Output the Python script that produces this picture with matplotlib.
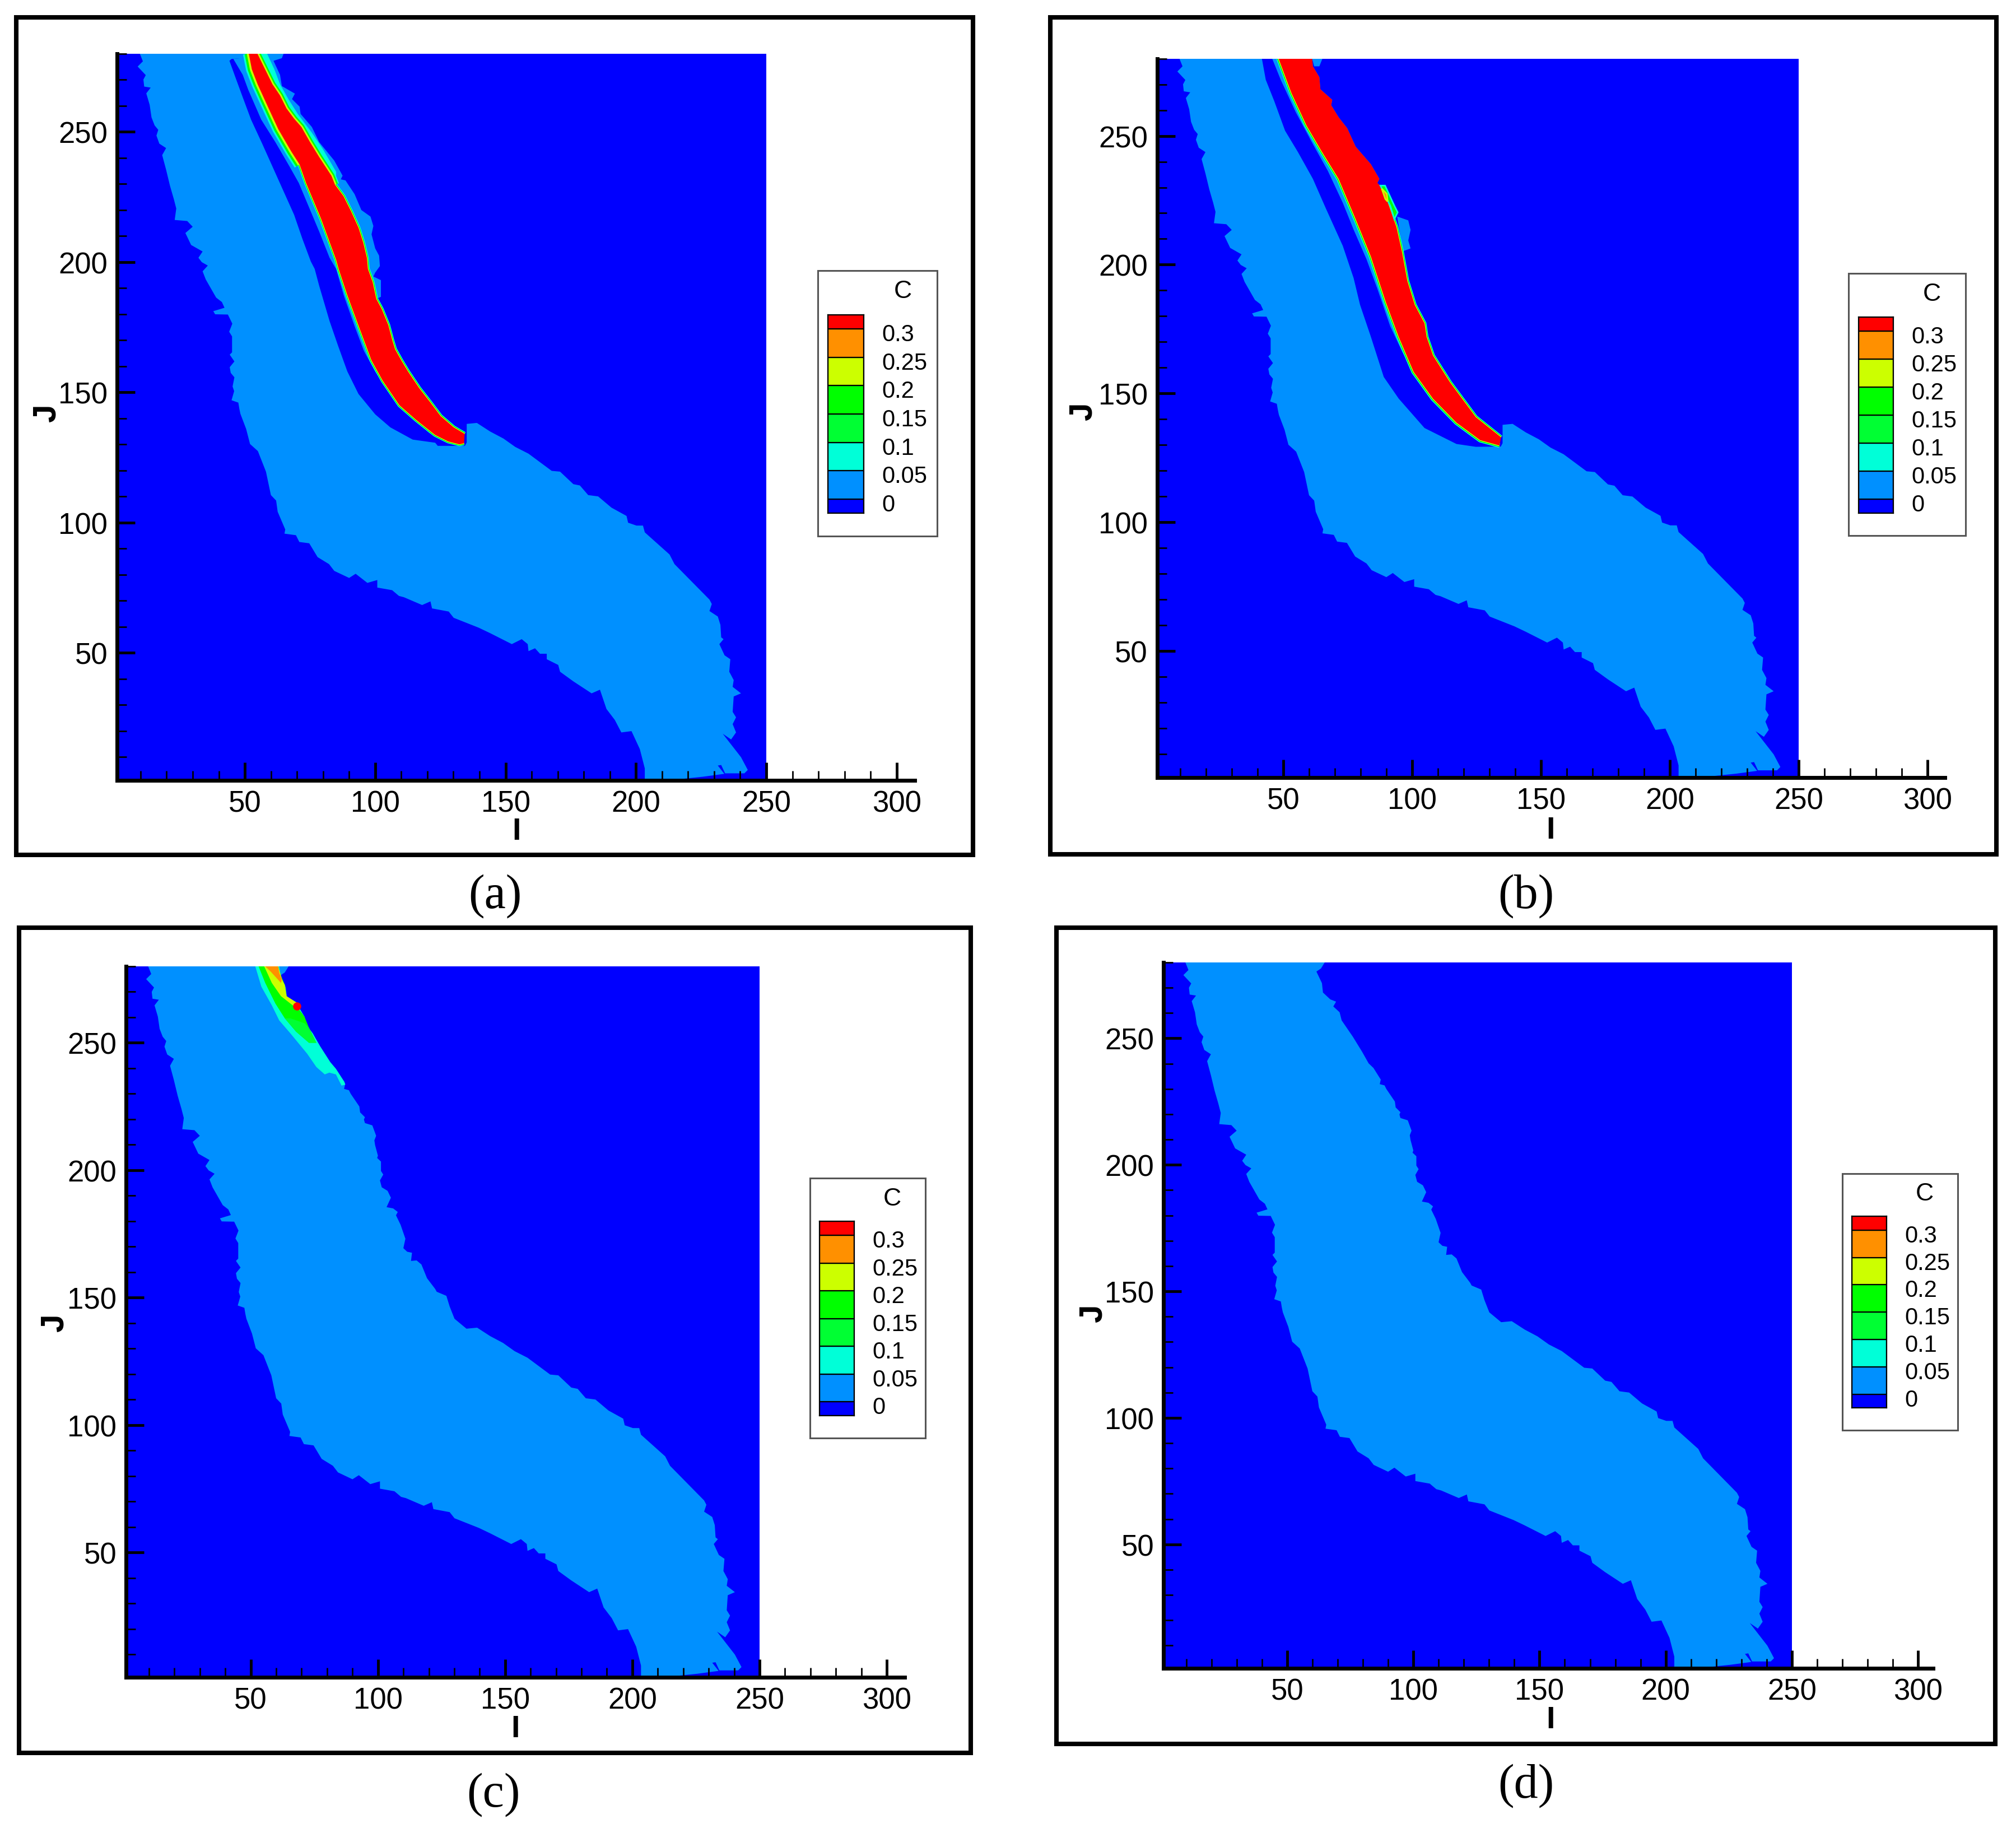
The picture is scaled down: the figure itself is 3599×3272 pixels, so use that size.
import matplotlib
matplotlib.use("Agg")
import matplotlib.pyplot as plt
from matplotlib.patches import Rectangle
from matplotlib.transforms import ScaledTranslation
import numpy as np

W, H = 3599, 3273
plt.rcParams['font.family'] = ['Liberation Sans', 'DejaVu Sans']

# ---------- colour levels ----------
level_labels = ['0', '0.05', '0.1', '0.15', '0.2', '0.25', '0.3']
level_values = [0, 0.05, 0.1, 0.15, 0.2, 0.25, 0.3]
band_edges = [-0.025, 0, 0.05, 0.1, 0.15, 0.2, 0.25, 0.3, 0.325]
band_colors = ['#0000ff', '#0090ff', '#00ffd8', '#00ff33', '#00ff00', '#ccff00', '#ff9000', '#ff0000']
C0, C1, C2, C3, C4, C5, C6, C7 = band_colors

I_domain = [1, 250, 250, 1]
J_domain = [1, 1, 280, 280]
I_ticks = [50, 100, 150, 200, 250, 300]
J_ticks = [50, 100, 150, 200, 250]

# ---------- main 0.05 plume outline (I, J) ----------
plume_left_I = [9.7, 10.9, 8.9, 12, 11.1, 11.4, 13.9, 12.2, 13.5, 14.2, 15.4, 16.8, 16.1, 17.2, 19.8, 18.3, 19.8,
                21.3, 22.8, 23.7, 23.1, 27.9, 30, 27.2, 29.4, 33.8, 32.2, 33.5, 35.8, 33.8, 35, 39, 41.2, 42.2,
                37.9, 38.6, 43.5, 45.2, 44, 45.1, 45.1, 44.2, 46, 44.2, 44.6, 46, 45.3, 45.9, 44.9, 47.5, 47.9,
                48.3, 50.5, 52, 55, 58.1, 60, 62, 62.6, 65.5, 65.2]
plume_left_J = [280, 277, 275, 271.7, 270, 267.3, 266.9, 264.7, 260.3, 255.5, 252.4, 250.7, 248.5, 245.4, 243.7,
                241, 235.4, 229.2, 224, 220.5, 216.1, 215.7, 213.5, 211.1, 206.5, 204, 201.6, 199.9, 198.6, 196.4,
                193.3, 186.3, 184.6, 182.4, 181.1, 179.9, 179.8, 176.3, 173.2, 171.4, 165.3, 164.4, 161.8, 159.6,
                157.4, 155.7, 152.2, 150.4, 146.9, 146, 143.6, 141.7, 135.9, 130.1, 127.4, 119.5, 110.5, 108.4,
                104.1, 97.3, 95.7]
plume_lower_I = [69.6, 70.9, 74.7, 77.9, 82.3, 84.3, 90, 92.5, 97, 100.8, 100.8, 106.5, 109.1, 111, 118, 121.2,
                 121.8, 128.2, 130.1, 139.7, 144.1, 152.4, 156.2, 158.5, 158.8, 161.3, 163.2, 165.8, 165.8, 170.2,
                 170.9, 176, 183, 186.2, 188.7, 191.9, 194.4, 198.3, 201.5, 203.4, 203.4]
plume_lower_J = [95.1, 92.5, 92, 86.7, 84, 81.4, 78.7, 80.3, 76.8, 77.9, 75, 74, 71.8, 71.3, 68.3, 69.7, 67, 65.8,
                 63.4, 59.6, 57.5, 53.3, 55.2, 53.3, 50.6, 51.7, 49.6, 49.6, 47.5, 45.3, 42.7, 39, 34.4, 35.8, 28.4,
                 24.2, 19.4, 19.9, 13, 5.6, 1.4]
plume_foot_I = [216.1, 225.7, 233.9, 231.4, 232.7, 234.2, 241.6, 242.9, 240.3, 233.3, 236.5, 238.4, 237.1, 238.4,
                237.1, 237.5, 240.3, 237.1, 237.5, 235.8, 236.2, 234, 232, 233.6, 232.7, 232.4, 231.4, 228.2, 229.1,
                228.2]
plume_foot_J = [1.4, 2.4, 3.5, 6.7, 6.9, 3.7, 3.7, 5, 9.9, 18.9, 16.7, 19.4, 22.6, 25.2, 27.3, 33.2, 34.4, 36.9,
                39.5, 42.7, 47.5, 49, 53.3, 55.2, 55.9, 60.7, 63.9, 66, 68.7, 70.4]
plume_upper_I = [214.8, 212.9, 203.4, 202.7, 200.2, 197, 196.4, 190.6, 185.5, 181.7, 178.5, 176, 170.9, 167.7, 158.8,
                 153.7, 149.2, 144.1, 139, 134.8, 130.1, 128.2, 126.9, 123.1, 122.5, 119.3, 117.1, 115.2, 113, 113.4,
                 111.5, 110, 110.8, 108.9, 107.1, 107.8, 106, 103.4, 105.1, 103.8, 101.5, 100.8, 102.1, 101.2, 101.2,
                 99.7, 100, 98.9, 98.6, 99.3, 97.8, 94.9, 94.5, 94.9, 93, 92.7, 89.3, 88.6, 86.7, 87.1, 84.2, 82.3,
                 79.7, 76, 71.6, 70.8, 68.3, 69.4, 67.1, 64.2, 63.8, 61.6, 63.4, 64.9]
plume_upper_J = [84, 87.7, 96.2, 98.8, 98.8, 99.9, 102.5, 105.7, 110, 110.5, 114.2, 114.7, 119.5, 119.8, 126.4, 129,
                 132.2, 134.9, 138.2, 137.8, 141.7, 146.5, 150.7, 152.3, 153.4, 157.6, 163, 164.6, 164.4, 167.6, 168,
                 169.4, 173.1, 178.6, 182.3, 183.6, 185, 185.5, 189.2, 191.9, 193.3, 196, 198.3, 199.7, 203.4, 204.8,
                 205.7, 209.8, 211.7, 213.5, 217.6, 218.5, 219.9, 220.8, 222.7, 225, 230, 231.4, 231.9, 233.7, 238.3,
                 240.1, 244.7, 250.7, 257.1, 260.3, 262.6, 264.5, 265.4, 268.1, 271.8, 276.4, 277.6, 280]

# ---------- cover over the plume, right of the dark channel, used in (a) and (b) ----------
cover_right_I = [135.1, 135.1, 131, 115, 112, 105, 75]
cover_right_J = [130.7, 141, 150, 170, 200, 240, 280]

# ---------- panel (a) ----------
a_channel_I = [44.9, 44.1, 46.3, 49.2, 52.4, 56.7, 62.8, 68.9, 72.1, 75.3, 76.8, 78.5, 82.5, 85.7, 89.3, 93.6, 100,
               105.8, 114.4, 123, 124, 134.4]
a_channel_J = [277.9, 277.2, 271.1, 263.2, 254.6, 245.3, 231.7, 218.1, 208.8, 200.2, 197.3, 190.9, 177.3, 168, 158,
               149.3, 141.5, 136.5, 131.8, 130.6, 129.4, 129.4]
a_sheath_left_I = [45.6, 49.2, 51.3, 56.3, 61.7, 67.1, 70.7, 74.6, 78.5, 82.5, 85, 87.9, 92.2, 95.7, 100, 104.3, 110,
                   120.8, 128]
a_sheath_left_J = [277.9, 271.8, 266.1, 254.6, 246, 236.7, 230.3, 221, 211.7, 201.6, 197.3, 187.3, 175.1, 165.8,
                   157.9, 151.5, 143.6, 134.3, 130.6]
a_sheath_right_I = [102.2, 102.2, 99.3, 100, 101.8, 101.5, 100, 98.6, 99.3, 98.2, 94.7, 92.1, 88.6, 86.8, 87.5, 84.3,
                    78.5, 75.7, 71.4, 71, 68.1, 69.2, 64.2, 63.5, 61, 64.2, 64.9]
a_sheath_right_J = [186.6, 193, 194.4, 195.9, 198.4, 202.4, 205.2, 210.6, 213.8, 217.4, 219.9, 226, 231.3, 231.7,
                    233.1, 238.9, 246, 251.8, 256.8, 259.6, 262.5, 264.6, 267.5, 271.8, 277.2, 278.2, 280]
a_red_left_I = [51.5, 52.7, 54.9, 58.5, 62.8, 67.8, 71, 73.5, 77.1, 79.2, 82.1, 85, 86, 89.3, 94.3, 98.6, 102.9,
                109.3, 115.8, 123, 128, 132.3, 134.1]
a_red_left_J = [280, 273.9, 268.2, 260.3, 251, 242.4, 237.4, 230.3, 221.7, 216.7, 208.8, 200.9, 197.3, 187.3, 173.7,
                162.2, 154.4, 145, 139.3, 133.6, 131.1, 130, 130.4]
a_red_right_I = [134.3, 130.1, 125.1, 120.8, 116.9, 112.6, 110, 107.6, 106.5, 105, 102.5, 100.4, 99, 97.2, 96.8, 95.4,
                 93.6, 90.7, 87.8, 84.6, 83.2, 78.5, 75, 71.7, 68.9, 66, 63.5, 60.6, 57.4, 54.8]
a_red_right_J = [134, 136.5, 140.8, 146.5, 151.5, 157.9, 162.2, 166.5, 170.1, 175.8, 181.9, 185.8, 192.3, 197.3, 201.6,
                 207.4, 213.1, 219.5, 225.3, 229.6, 233.1, 240.3, 246, 251.8, 255, 258.9, 263.9, 268.2, 274.7, 280]
a_strip_I = [85, 85, 80, 75.7, 70.3, 66.7, 63.5, 61.3, 58.5, 54.8, 57.4, 60.6, 63.5, 66, 68.9, 71.7, 75, 78.5, 83.2, 84.6]
a_strip_J = [231, 234.6, 243.2, 249.6, 256.8, 262.5, 268.2, 274, 280, 280, 274.7, 268.2, 263.9, 258.9, 255, 251.8,
             246, 240.3, 233.1, 229.6]

# ---------- panel (b) ----------
b_channel_I = [41.7, 43.2, 46.5, 50.7, 55.7, 61.5, 66.5, 73.1, 77.3, 79.8, 84, 89, 94.8, 104.8, 117.2, 124.7, 134.4]
b_channel_J = [280, 271.8, 263.5, 252, 243.7, 233.3, 221.9, 207.3, 194.8, 184.4, 172, 156.4, 148, 136.6, 130.4, 129.3, 129.4]
b_sheath_left_I = [45.7, 49, 54.8, 61.5, 67.3, 73.1, 77.3, 82.3, 86.5, 91.5, 96.4, 103.1, 111.4, 122.2, 128]
b_sheath_left_J = [280, 271.8, 259.3, 246.8, 236.4, 224, 213.6, 202.1, 190.7, 176.1, 165.7, 154.3, 143.9, 134.5, 131.4]
b_red_left_I = [48.2, 53.2, 59, 64.8, 71.5, 78.1, 84, 89.8, 94.8, 100.6, 108.1, 117.2, 126.4, 133.9]
b_red_left_J = [280, 266.6, 254.1, 244.2, 233.3, 217.7, 203.2, 185.5, 172, 158.4, 148, 138.7, 131.9, 129.8]
b_red_right_I = [134.5, 124.7, 114.7, 108.1, 105.6, 104.8, 101, 98.1, 96, 93.9, 90.6, 88.1, 86.5, 87.3, 84, 78.1,
                 74.8, 71.5, 68.6, 69, 64.4, 64, 61.5, 61.2]
b_red_right_J = [133, 140.8, 154.3, 164.7, 172, 177.2, 184.4, 193.8, 205.2, 214.6, 224, 230.2, 231.7, 233.3, 239,
                 245.8, 253, 257.2, 261.9, 264, 268.1, 272.8, 277, 280]
b_green_I = [87.7, 89.5, 93.1, 94.4, 93.1, 91.5]
b_green_J = [230.7, 230.7, 222.9, 220.3, 217.7, 222.9]
b_orange_I = [88.2, 90.2, 90.5, 89.6]
b_orange_J = [229.5, 227.5, 224.5, 225.5]
b_patch_I = [94.2, 98.5, 99.4, 98.5, 99.4, 96.4, 95.2]
b_patch_J = [218.7, 217.2, 213.5, 209.4, 206.3, 205.2, 212.5]
b_top_patch_I = [61.2, 65.2, 64, 62]
b_top_patch_J = [280, 280, 277, 277]

# ---------- panel (c) ----------
c_cyan_I = [51.8, 54.2, 58.3, 61.2, 65.6, 72.2, 75.8, 79.1, 80.9, 83.5, 85.7, 87.2, 86.8, 83.5, 81.3, 77.3, 74.4,
            72.2, 71.1, 68.9, 67, 64.1, 63.4, 62.3, 61.6, 61.2]
c_cyan_J = [280, 272, 264.7, 258.8, 253.7, 245.7, 240.5, 237.6, 238.3, 237.6, 233.2, 233.6, 234.7, 239.8, 242.4,
            248.6, 253.7, 256.6, 260.3, 264, 266.2, 268.3, 272.7, 274.9, 277.5, 280]
c_green_I = [53.1, 55.7, 59.7, 63.4, 67.8, 72.9, 75.8, 72.9, 71.1, 68.9, 67.4, 64.1, 63.4, 61.9, 60.8]
c_green_J = [280, 273.5, 265.4, 259.6, 254.4, 250, 250, 255.9, 260.3, 263.2, 265.4, 268.3, 272.7, 276.4, 280]
c_lower_green_I = [63.4, 67.8, 72.9, 75.8, 72.9, 71.1, 65.6]
c_lower_green_J = [259.6, 254.4, 250, 250, 255.9, 257.7, 259.6]
c_yellow_I = [55.3, 58.3, 61.9, 67.4, 68.1, 64.1, 63.4, 62.3, 60.8]
c_yellow_J = [280, 273.5, 268.3, 264, 265.8, 268.3, 272.7, 274.9, 280]
c_orange_I = [55.7, 57.9, 61.9, 62.3, 61.2, 60.8]
c_orange_J = [280, 277.9, 273.5, 274.9, 277.5, 280]
c_dot_I = [68.1]
c_dot_J = [264.5]

fig = plt.figure(figsize=(W / 100, H / 100), dpi=100, facecolor='white')


def fx(p):
    return p / W


def fy(p):
    return 1 - p / H


def make_axes(left, right250, bottom, top, end):
    """pixel box: I=1 at left, I=250 at right250, J=1 at bottom, J=280 at top; axis line runs to I=end"""
    per = (right250 - left) / 249
    x1 = left + (end - 1) * per
    ax = fig.add_axes([fx(left), fy(bottom), (x1 - left) / W, (bottom - top) / H])
    ax.set_xlim(1, end)
    ax.set_ylim(1, 280)
    ax.patch.set_alpha(0)
    for s in ('top', 'right'):
        ax.spines[s].set_visible(False)
    for s in ('left', 'bottom'):
        ax.spines[s].set_linewidth(5)
    ax.set_xticks(I_ticks)
    ax.set_xticklabels([str(v) for v in I_ticks])
    ax.set_yticks(J_ticks)
    ax.set_yticklabels([str(v) for v in J_ticks])
    ax.set_xticks(np.arange(10, end, 10), minor=True)
    ax.set_yticks(np.arange(10, 281, 10), minor=True)
    ax.tick_params(which='major', direction='in', length=23, width=3.5, labelsize=38, pad=12)
    ax.tick_params(which='minor', direction='in', length=12, width=2)
    ax.set_axisbelow(False)
    ax.fill(I_domain, J_domain, color=C0, lw=0, zorder=1)
    ax.fill(plume_left_I + plume_lower_I + plume_foot_I + plume_upper_I,
            plume_left_J + plume_lower_J + plume_foot_J + plume_upper_J, color=C1, lw=0, zorder=2)
    return ax


def edge_bands(ax, xs, ys, widths):
    """contour bands along the steep front of the red body"""
    for col, lw in zip((C2, C4, C5), widths):
        ax.plot(xs, ys, color=col, lw=lw, solid_capstyle='butt', solid_joinstyle='round', zorder=5)


def frame_and_legend(fr, box, cap, cap_pos, xl, yl):
    fig.add_artist(Rectangle((fx(fr[0]), fy(fr[3])), (fr[1] - fr[0]) / W, (fr[3] - fr[2]) / H,
                             transform=fig.transFigure, fill=False, ec='black', lw=5.8))
    bx0, bx1, by0, by1 = box
    sx, sy = (bx1 - bx0) / 213, (by1 - by0) / 474
    fig.add_artist(Rectangle((fx(bx0), fy(by1)), (bx1 - bx0) / W, (by1 - by0) / H,
                             transform=fig.transFigure, fc='white', ec='#555555', lw=2.2, zorder=3))
    lax = fig.add_axes([fx(bx0 + 18 * sx), fy(by0 + 433 * sy), 64 * sx / W, 354 * sy / H], zorder=5)
    lax.set_xlim(0, 1)
    lax.set_ylim(band_edges[0], band_edges[-1])
    lax.bar([0.5] * 8, np.diff(band_edges), bottom=band_edges[:-1], width=1, color=band_colors,
            edgecolor='black', linewidth=1.6)
    lax.set_xticks([])
    lax.yaxis.tick_right()
    lax.set_yticks(level_values)
    lax.set_yticklabels(level_labels)
    lax.tick_params(axis='y', length=0, labelsize=30, pad=23)
    off = ScaledTranslation(0, -5.5 / 100, fig.dpi_scale_trans)
    for t in lax.get_yticklabels():
        t.set_transform(t.get_transform() + off)
    for s in lax.spines.values():
        s.set_linewidth(1.6)
    fig.text(fx(bx0 + 152 * sx), fy(by0 + 37 * sy), 'C', fontsize=32, ha='center', va='center', zorder=6)
    fig.text(fx(cap_pos[0]), fy(cap_pos[1]), cap, fontsize=62, family=['Liberation Serif'], ha='center', va='center')
    fig.text(fx(xl[0]), fy(xl[1]), 'I', fontsize=40, fontweight='bold', ha='center', va='center')
    fig.text(fx(yl[0]), fy(yl[1]), 'J', fontsize=42, fontweight='bold', rotation=90, ha='center', va='center')


# ---------- (a) ----------
ax = make_axes(209, 1368, 1394, 96.5, 307)
ax.fill(a_channel_I + cover_right_I, a_channel_J + cover_right_J, color=C0, lw=0, zorder=3)
ax.fill(a_sheath_left_I + a_red_right_I[:12] + a_sheath_right_I,
        a_sheath_left_J + a_red_right_J[:12] + a_sheath_right_J, color=C1, lw=0, zorder=4)
ax.fill(a_strip_I, a_strip_J, color=C2, lw=0, zorder=4.5)
edge_bands(ax, a_red_left_I, a_red_left_J, (5, 3.4, 1.6))
edge_bands(ax, a_red_right_I, a_red_right_J, (5, 3.4, 1.6))
edge_bands(ax, a_red_left_I[:7], a_red_left_J[:7], (15, 10.5, 5))
edge_bands(ax, a_red_right_I[19:], a_red_right_J[19:], (11, 8, 4))
ax.fill(a_red_left_I + a_red_right_I, a_red_left_J + a_red_right_J, color=C7, lw=0, zorder=6)
frame_and_legend((29, 1737, 32, 1527), (1460, 1673, 484, 958), '(a)', (884, 1600), (922, 1485), (84, 738))

# ---------- (b) ----------
ax = make_axes(2065.5, 3211, 1388.5, 105.6, 306.8)
ax.fill(b_channel_I + cover_right_I, b_channel_J + cover_right_J, color=C0, lw=0, zorder=3)
ax.fill(b_sheath_left_I + b_red_right_I, b_sheath_left_J + b_red_right_J, color=C1, lw=0, zorder=4)
ax.fill(b_patch_I, b_patch_J, color=C1, lw=0, zorder=4)
ax.fill(b_top_patch_I, b_top_patch_J, color=C1, lw=0, zorder=4)
edge_bands(ax, b_red_left_I, b_red_left_J, (6, 4, 1.8))
edge_bands(ax, b_red_right_I[:11], b_red_right_J[:11], (5, 3.4, 1.6))
ax.fill(b_red_left_I + b_red_right_I, b_red_left_J + b_red_right_J, color=C7, lw=0, zorder=6)
ax.fill(b_green_I, b_green_J, color=C4, ec=C2, lw=2, zorder=7)
ax.fill(b_orange_I, b_orange_J, color=C6, ec=C5, lw=2, zorder=7.5)
frame_and_legend((1875, 3564, 32, 1526), (3300, 3509, 489, 957), '(b)', (2724, 1600), (2768, 1483), (1934, 735))

# ---------- (c) ----------
ax = make_axes(225, 1356, 2995, 1726, 307)
ax.fill(c_cyan_I, c_cyan_J, color=C2, lw=0, zorder=4)
ax.fill(c_green_I, c_green_J, color=C4, lw=0, zorder=5)
ax.fill(c_lower_green_I, c_lower_green_J, color=C3, lw=0, zorder=5.5)
ax.fill(c_yellow_I, c_yellow_J, color=C5, lw=0, zorder=6)
ax.fill(c_orange_I, c_orange_J, color=C6, lw=0, zorder=7)
ax.scatter(c_dot_I, c_dot_J, s=110, color=C7, zorder=8, lw=0)
frame_and_legend((34, 1733, 1657, 3130), (1446, 1652, 2104, 2568), '(c)', (881, 3204), (920, 3087), (98, 2362))

# ---------- (d) ----------
ax = make_axes(2077, 3199, 2979, 1719, 306)
frame_and_legend((1886, 3562, 1657, 3114), (3289, 3495, 2096, 2554), '(d)', (2724, 3188), (2768, 3071), (1952, 2345))

fig.savefig('out.png', dpi=100)
